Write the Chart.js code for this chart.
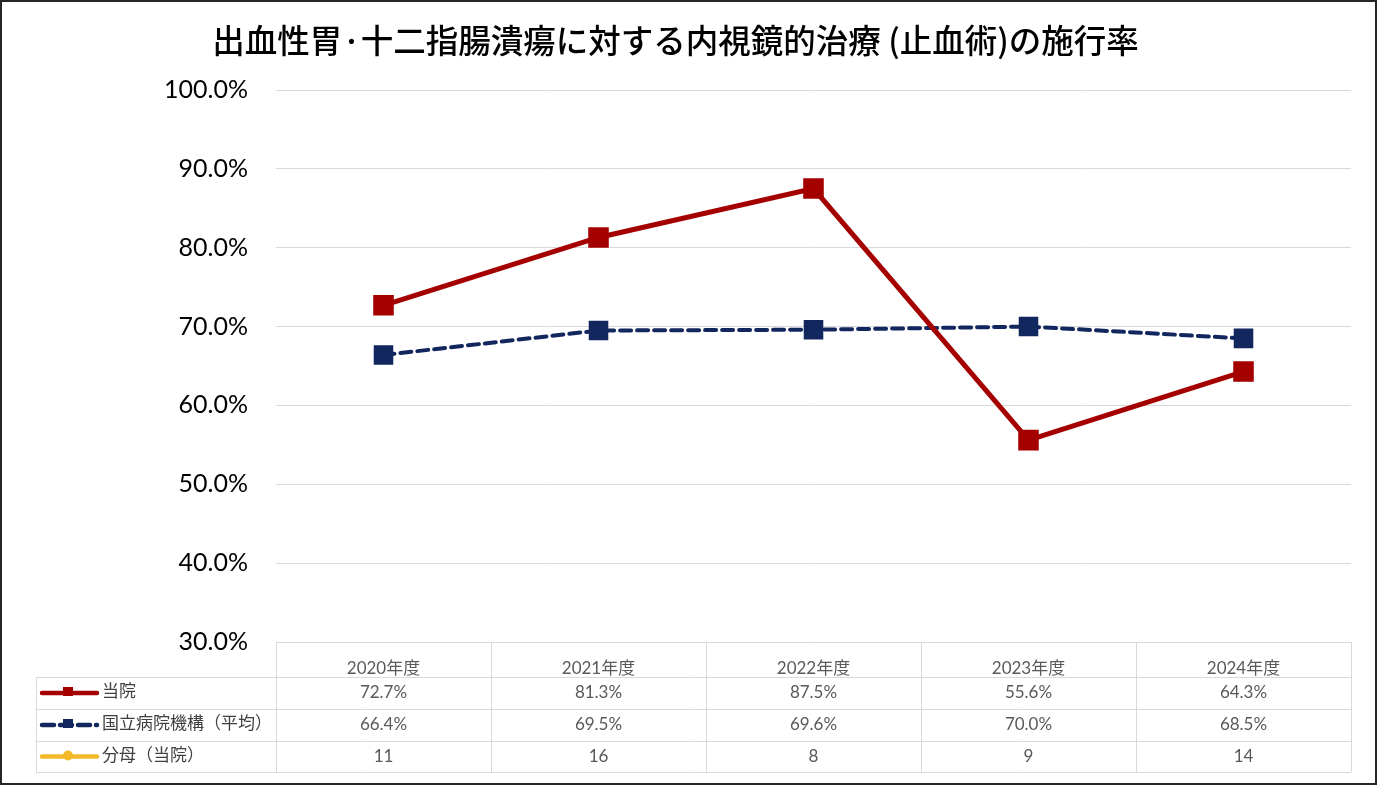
<!DOCTYPE html>
<html lang="ja">
<head>
    <meta charset="UTF-8">
    <title>出血性胃·十二指腸潰瘍に対する内視鏡的治療 (止血術)の施行率</title>
    <script src="https://cdn.jsdelivr.net/npm/chart.js"></script>
    <style>
        html, body { margin: 0; padding: 0; background: #fff; }
        #wrap { width: 1377px; height: 785px; }
    </style>
</head>
<body>
    <div id="wrap">
        <canvas id="myChart" width="1377" height="785"></canvas>
    </div>

    <script>
        // values
        var years = ['2020年度', '2021年度', '2022年度', '2023年度', '2024年度'];
        var ownRate = [72.7, 81.3, 87.5, 55.6, 64.3];
        var nhoRate = [66.4, 69.5, 69.6, 70.0, 68.5];
        var denominator = [11, 16, 8, 9, 14];
        var yTicks = [30, 40, 50, 60, 70, 80, 90, 100];

        var RED = '#a50000';
        var NAVY = '#13275f';
        var GOLD = '#f4b928';
        var GRID = '#d9d9d9';
        var FONT = 'Lato, "Noto Sans CJK JP", sans-serif';

        var tableRows = [
            { label: '当院', color: RED, dash: [], marker: 'rect', values: ownRate.map(function (v) { return v.toFixed(1) + '%'; }) },
            { label: '国立病院機構（平均）', color: NAVY, dash: [12, 6], marker: 'rect', values: nhoRate.map(function (v) { return v.toFixed(1) + '%'; }) },
            { label: '分母（当院）', color: GOLD, dash: [], marker: 'circle', values: denominator.map(String) }
        ];

        // data table under the plot + outer frame
        var dataTable = {
            id: 'dataTable',
            afterDraw: function (chart) {
                var ctx = chart.ctx;
                var x = chart.scales.x;
                var area = chart.chartArea;
                var left = area.left, right = area.right;
                var legendLeft = 36;
                var rowTops = [area.bottom, area.bottom + 35, area.bottom + 67, area.bottom + 99, area.bottom + 130];

                ctx.save();
                ctx.strokeStyle = GRID;
                ctx.lineWidth = 1;
                ctx.beginPath();
                // horizontal lines
                ctx.moveTo(left, rowTops[0] + 0.5); ctx.lineTo(right, rowTops[0] + 0.5);
                for (var r = 1; r < rowTops.length; r++) {
                    ctx.moveTo(legendLeft, rowTops[r] + 0.5); ctx.lineTo(right, rowTops[r] + 0.5);
                }
                // vertical lines
                ctx.moveTo(legendLeft + 0.5, rowTops[1]); ctx.lineTo(legendLeft + 0.5, rowTops[4]);
                var step = (right - left) / years.length;
                for (var c = 0; c <= years.length; c++) {
                    var vx = Math.round(left + c * step) + 0.5;
                    ctx.moveTo(vx, rowTops[0]); ctx.lineTo(vx, rowTops[4]);
                }
                ctx.stroke();

                ctx.textBaseline = 'middle';
                tableRows.forEach(function (row, i) {
                    var cy = (rowTops[i + 1] + rowTops[i + 2]) / 2;
                    // legend key
                    ctx.strokeStyle = row.color;
                    ctx.fillStyle = row.color;
                    ctx.lineWidth = 4.5;
                    ctx.lineCap = 'round';
                    ctx.setLineDash(row.dash);
                    ctx.beginPath();
                    ctx.moveTo(42, cy); ctx.lineTo(97, cy);
                    ctx.stroke();
                    ctx.setLineDash([]);
                    if (row.marker === 'rect') {
                        ctx.fillRect(63, cy - 6, 10, 9);
                    } else {
                        ctx.beginPath();
                        ctx.arc(68, cy - 1, 5, 0, Math.PI * 2);
                        ctx.fill();
                    }
                    ctx.fillStyle = '#404040';
                    ctx.font = '17px ' + FONT;
                    ctx.textAlign = 'left';
                    ctx.fillText(row.label, 102, cy - 1);
                    // values
                    ctx.fillStyle = '#595959';
                    ctx.textAlign = 'center';
                    row.values.forEach(function (v, j) {
                        ctx.fillText(v, x.getPixelForValue(j), cy);
                    });
                });

                // chart frame
                ctx.strokeStyle = '#262626';
                ctx.lineWidth = 2;
                ctx.strokeRect(1, 1, chart.width - 2, chart.height - 2);
                ctx.restore();
            }
        };

        new Chart(document.getElementById('myChart').getContext('2d'), {
            type: 'line',
            data: {
                labels: years,
                datasets: [
                    {
                        label: '当院',
                        data: ownRate,
                        borderColor: RED,
                        backgroundColor: RED,
                        borderWidth: 5,
                        pointStyle: 'rect',
                        pointRadius: 11,
                        pointHoverRadius: 11,
                        tension: 0
                    },
                    {
                        label: '国立病院機構（平均）',
                        data: nhoRate,
                        borderColor: NAVY,
                        backgroundColor: NAVY,
                        borderWidth: 4,
                        borderDash: [11, 6],
                        borderCapStyle: 'round',
                        pointStyle: 'rect',
                        pointRadius: 11,
                        pointHoverRadius: 11,
                        tension: 0
                    }
                ]
            },
            options: {
                responsive: false,
                animation: false,
                layout: { padding: { top: 0, right: 26, bottom: 0, left: 0 } },
                plugins: {
                    legend: { display: false },
                    tooltip: { enabled: false },
                    title: {
                        display: true,
                        text: '出血性胃·十二指腸潰瘍に対する内視鏡的治療 (止血術)の施行率',
                        color: '#000',
                        font: { family: '"Noto Sans CJK JP", sans-serif', size: 32.5, weight: '500', lineHeight: 1.2 },
                        padding: { top: 21, bottom: 30 }
                    }
                },
                scales: {
                    x: {
                        offset: true,
                        grid: { display: false },
                        border: { display: false },
                        ticks: { color: '#595959', font: { family: FONT, size: 17 }, padding: 8, maxRotation: 0 },
                        afterFit: function (scale) { scale.height = 143; }
                    },
                    y: {
                        min: 30,
                        max: 100,
                        afterBuildTicks: function (scale) {
                            scale.ticks = yTicks.map(function (v) { return { value: v }; });
                        },
                        grid: { color: GRID, lineWidth: 1, drawTicks: false },
                        border: { display: false },
                        ticks: {
                            color: '#000',
                            font: { family: FONT, size: 25 },
                            padding: 28,
                            callback: function (v) { return v.toFixed(1) + '%'; }
                        },
                        afterFit: function (scale) { scale.width = 276; }
                    }
                }
            },
            plugins: [dataTable]
        });
    </script>
</body>
</html>
